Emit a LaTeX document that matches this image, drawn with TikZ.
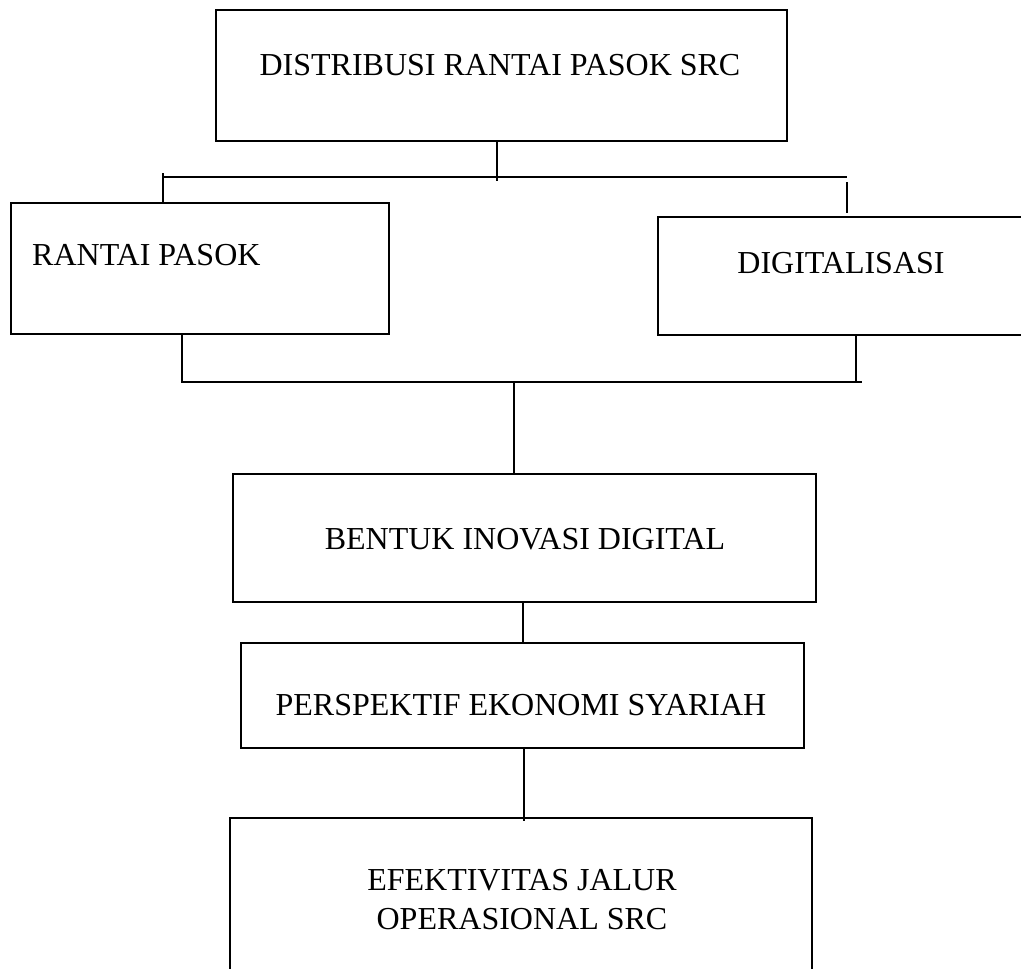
\documentclass[tikz,border=0pt]{standalone}
\usepackage{fontspec}
\setmainfont{Liberation Serif}
\begin{document}
\begin{tikzpicture}[x=1pt,y=-1pt,
  box/.style 2 args={draw=black, line width=1.6pt, rectangle, minimum width=#1, minimum height=#2, inner sep=0pt},
  lbl/.style={inner sep=0pt, font=\fontsize{32}{39}\selectfont},
  conn/.style={draw=black, line width=1.6pt}]
\clip (0,0) rectangle (1021,969);
\fill[white] (0,0) rectangle (1021,969);
% boxes
\node[box={571}{131}] (top) at (501.5,75.5) {};
\node[box={378}{131}] (rp)  at (200,268.5) {};
\node[box={368}{118}] (dg)  at (842,276) {};
\node[box={583}{128}] (bt)  at (524.5,538) {};
\node[box={563}{105}] (ps)  at (522.5,695.5) {};
\node[box={582}{182}] (ef)  at (521,909) {};
% texts
\node[lbl, anchor=base] (topT) at (500,75) {DISTRIBUSI RANTAI PASOK SRC};
\node[lbl, anchor=base west] (rpT) at (32,265) {RANTAI PASOK};
\node[lbl, anchor=base] (dgT) at (841,273) {DIGITALISASI};
\node[lbl, anchor=base] (btT) at (525,549) {BENTUK INOVASI DIGITAL};
\node[lbl, anchor=base] (psT) at (521,715) {PERSPEKTIF EKONOMI SYARIAH};
\node[lbl, align=center, anchor=center] (efT) at (522,900) {EFEKTIVITAS JALUR\\OPERASIONAL SRC};
% upper connectors
\coordinate (a1) at (497,181);
\coordinate (hL) at (164,177);
\coordinate (hR) at (847,177);
\coordinate (lt) at (163,173);
\coordinate (rt) at (847,182);
\coordinate (rt2) at (847,213);
\draw[conn] (top.south -| a1) -- (a1);
\draw[conn] (hL) -- (hR);
\draw[conn] (lt) -- (rp.north -| lt);
\draw[conn] (rt) -- (rt2);
% lower connectors
\coordinate (bl) at (182,382);
\coordinate (br) at (856,382);
\coordinate (bre) at (862,382);
\coordinate (bm) at (514,382);
\draw[conn] (rp.south -| bl) -- (bl) -- (bre);
\draw[conn] (dg.south -| br) -- (br);
\draw[conn] (bm) -- (bt.north -| bm);
\coordinate (m1) at (523,643);
\draw[conn] (bt.south -| m1) -- (m1);
\coordinate (m2) at (524,821);
\draw[conn] (ps.south -| m2) -- (m2);
\end{tikzpicture}
\end{document}
